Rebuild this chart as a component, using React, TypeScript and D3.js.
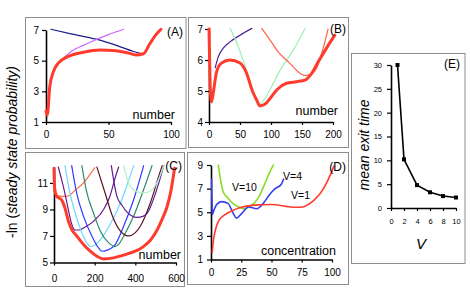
import React, { useEffect, useRef } from 'react';
import * as d3 from 'd3';

type Pt = [number, number];

// panel A: number of molecules
const aRed: Pt[] = [[0, 1.7], [1, 1.45], [3, 3.3], [6, 4.3], [10, 4.85], [17, 5.25], [30, 5.55], [43, 5.7], [56, 5.65], [65, 5.52], [72, 5.37], [78, 5.45], [83, 6.1], [88, 6.7], [92, 7.05]];
const aViolet: Pt[] = [[10, 4.88], [15, 5.25], [22, 5.7], [30, 6.0], [38, 6.3], [50, 6.7], [62, 7.05]];
const aNavy: Pt[] = [[4, 7.05], [20, 6.75], [40, 6.4], [58, 5.95], [70, 5.6], [77, 5.45]];

// panel B
const bRed: Pt[] = [[0, 7.0], [1, 6.0], [2, 5.1], [4, 4.65], [7, 4.95], [12, 5.6], [20, 5.9], [34, 6.0], [50, 5.9], [60, 5.6], [70, 5.0], [77, 4.7], [82, 4.52], [90, 4.57], [100, 4.8], [110, 5.05], [125, 5.25], [141, 5.3], [155, 5.35], [165, 5.55], [175, 5.9], [190, 6.4], [203, 6.8]];
const bPink: Pt[] = [[1.5, 7.05], [2, 6.6], [3, 6.2]];
const bPurple: Pt[] = [[10, 5.75], [15, 6.1], [23, 6.38], [35, 6.6], [50, 6.8], [69, 7.02]];
const bGreen: Pt[] = [[34, 7.02], [45, 6.55], [55, 6.0], [65, 5.4], [74, 4.85], [82, 4.6], [90, 4.75], [98, 5.03], [115, 5.68], [136, 6.32], [155, 7.02]];
const bSalmon: Pt[] = [[85, 7.02], [100, 6.6], [110, 6.3], [130, 5.9], [145, 5.6], [155, 5.5], [165, 5.55], [175, 5.8], [183, 6.3], [192, 7.0]];

// panel C
const cRed: Pt[] = [[0, 12.1], [3, 10.6], [13, 10.0], [38, 9.7], [54, 9.1], [71, 8.1], [87, 7.5], [112, 7.0], [145, 6.35], [178, 5.85], [211, 5.47], [244, 5.27], [293, 5.35], [330, 5.5], [375, 5.72], [420, 6.0], [441, 6.22], [475, 6.7], [507, 7.45], [530, 8.2], [556, 9.2], [575, 10.4], [593, 12.1]];
const cOrange: Pt[] = [[8, 10.1], [30, 10.0], [55, 9.98], [75, 10.05], [100, 10.4], [145, 11.0], [175, 11.6], [200, 12.15]];
const cPurple1: Pt[] = [[21, 12.2], [40, 11.1], [54, 10.2], [70, 9.0], [85, 8.0], [104, 7.45], [125, 7.45], [145, 7.6], [194, 8.1], [244, 9.0], [275, 10.0], [301, 11.4], [318, 12.2]];
const cCyan: Pt[] = [[54, 12.3], [79, 10.2], [104, 8.75], [137, 7.25], [170, 6.3], [178, 6.2], [200, 6.3], [227, 6.7], [277, 7.9], [310, 8.9], [340, 10.0], [365, 11.1], [392, 12.3]];
const cBlue: Pt[] = [[87, 12.3], [112, 10.2], [145, 8.5], [186, 7.0], [219, 6.1], [236, 5.85], [268, 5.97], [301, 6.35], [343, 7.75], [392, 9.75], [441, 12.3]];
const cTeal: Pt[] = [[137, 12.3], [161, 10.3], [194, 8.75], [227, 7.4], [268, 6.5], [300, 6.2], [320, 6.4], [343, 7.0], [392, 8.5], [441, 10.5], [482, 12.3]];
const cMaroon: Pt[] = [[211, 12.2], [252, 10.2], [285, 8.6], [320, 7.5], [367, 7.0], [400, 7.25], [425, 7.75], [474, 9.5], [515, 11.5], [532, 12.3]];
const cPurple2: Pt[] = [[282, 12.3], [309, 10.0], [335, 9.3], [359, 8.8], [408, 8.4], [440, 8.5], [458, 8.7], [499, 10.2], [540, 12.3]];
const cMint: Pt[] = [[342, 12.3], [358, 11.4], [375, 10.75], [400, 10.4], [441, 10.25], [470, 10.35], [490, 10.6], [515, 11.3], [540, 12.3]];

// panel D: concentration, V = 1, 4, 10
const dV1: Pt[] = [[1, 1.6], [2, 2.6], [3.3, 3.35], [6, 4.2], [11.6, 4.8], [17, 5.1], [23, 5.35], [36, 5.6], [50, 5.65], [62, 5.5], [70, 5.42], [76, 5.45], [81, 5.7], [85, 6.0], [93, 7.0], [100, 8.5], [101.5, 8.9]];
const dV4: Pt[] = [[0.5, 7.8], [0.8, 6.0], [1, 4.8], [2.5, 5.2], [4.7, 5.65], [8.8, 5.9], [14, 5.75], [18.4, 4.9], [21, 4.5], [25.4, 4.9], [30.8, 5.45], [37.8, 5.3], [43.2, 5.75], [48.8, 6.55], [53, 7.0], [58, 7.35], [60, 7.8]];
const dV10: Pt[] = [[6, 9.0], [8, 7.7], [10, 6.75], [14, 6.2], [18, 5.75], [23, 5.45], [28, 5.3], [33, 5.55], [39, 6.2], [44, 7.3], [49, 8.5], [51.5, 9.0]];

// panel E: mean exit time vs V
const eV = [1, 2, 4, 6, 8, 10];
const eTime = [30, 10.2, 4.8, 3.3, 2.5, 2.2];

const FONT = "'Liberation Sans', Arial, Helvetica, sans-serif";
const RED = '#ff3b2e';

export default function App() {
  const svgRef = useRef<SVGSVGElement | null>(null);

  useEffect(() => {
    const svg = d3.select(svgRef.current);
    svg.selectAll('*').remove();

    // panel frames
    const frames = [
      [25.5, 17.5, 160.5, 131],
      [188.5, 17.5, 160, 130],
      [25.5, 152.5, 159, 134],
      [187.5, 152.5, 161, 132],
      [351.5, 53.5, 113.5, 210],
    ];
    svg
      .selectAll('.frame')
      .data(frames)
      .join('rect')
      .attr('x', (d) => d[0])
      .attr('y', (d) => d[1])
      .attr('width', (d) => d[2])
      .attr('height', (d) => d[3])
      .style('fill', 'none')
      .style('stroke', '#8e8e8e')
      .style('stroke-width', 1);

    const panel = (
      x: d3.ScaleLinear<number, number>,
      y: d3.ScaleLinear<number, number>,
      xTicks: number[],
      yTicks: number[],
      fontSize: number,
      xPad: number,
      yPad: number,
    ) => {
      const g = svg.append('g');
      const fmt = d3.format('d');
      const ax = g
        .append('g')
        .attr('transform', `translate(0, ${y.range()[0]})`)
        .call(
          d3
            .axisBottom(x)
            .tickValues(xTicks)
            .tickFormat((d) => fmt(d as number))
            .tickSize(3)
            .tickSizeOuter(0)
            .tickPadding(xPad),
        );
      const ay = g
        .append('g')
        .attr('transform', `translate(${x.range()[0]}, 0)`)
        .call(
          d3
            .axisLeft(y)
            .tickValues(yTicks)
            .tickFormat((d) => fmt(d as number))
            .tickSize(4)
            .tickSizeOuter(0)
            .tickPadding(yPad),
        );
      [ax, ay].forEach((a) => {
        a.select('.domain').style('stroke', '#000').style('stroke-width', 1.6);
        a.selectAll('.tick line').style('stroke', '#000').style('stroke-width', 1.2);
        a.selectAll('.tick text')
          .style('font-family', FONT)
          .style('font-size', `${fontSize}px`)
          .style('fill', '#000');
      });
      return g;
    };

    const curve = (
      g: d3.Selection<SVGGElement, unknown, null, undefined>,
      x: d3.ScaleLinear<number, number>,
      y: d3.ScaleLinear<number, number>,
      pts: Pt[],
      color: string,
      w: number,
    ) => {
      const line = d3
        .line<Pt>()
        .x((d) => x(d[0]))
        .y((d) => y(d[1]))
        .curve(d3.curveMonotoneX);
      g.append('path')
        .attr('d', line(pts))
        .style('fill', 'none')
        .style('stroke', color)
        .style('stroke-width', w)
        .style('stroke-linejoin', 'round')
        .style('stroke-linecap', 'round');
    };

    const label = (tx: number, ty: number, s: string, size: number, anchor = 'start', italic = false) =>
      svg
        .append('text')
        .attr('x', tx)
        .attr('y', ty)
        .attr('text-anchor', anchor)
        .style('font-family', FONT)
        .style('font-size', `${size}px`)
        .style('font-style', italic ? 'italic' : 'normal')
        .text(s);

    // (A)
    const xA = d3.scaleLinear().domain([0, 100]).range([46, 171]);
    const yA = d3.scaleLinear().domain([1, 7]).range([122, 30]);
    const gA = panel(xA, yA, [0, 50, 100], [1, 3, 5, 7], 10, 6, 3);
    curve(gA, xA, yA, aNavy, '#1c1c8a', 1.2);
    curve(gA, xA, yA, aViolet, '#cc66ff', 1.2);
    curve(gA, xA, yA, aRed, RED, 3);
    label(175, 119, 'number', 12.5, 'end');
    label(183, 36, '(A)', 12, 'end');

    // (B)
    const xB = d3.scaleLinear().domain([0, 200]).range([209, 333]);
    const yB = d3.scaleLinear().domain([4, 7]).range([122, 29]);
    const gB = panel(xB, yB, [0, 50, 100, 150, 200], [4, 5, 6, 7], 10, 6, 2);
    curve(gB, xB, yB, bPink, '#ffc4c4', 1.2);
    curve(gB, xB, yB, bPurple, '#4b1f96', 1.2);
    curve(gB, xB, yB, bGreen, '#9cf0b4', 1.2);
    curve(gB, xB, yB, bSalmon, '#ff6347', 1.2);
    curve(gB, xB, yB, bRed, RED, 3);
    label(338, 115, 'number', 12.5, 'end');
    label(346, 33, '(B)', 12, 'end');

    // (C)
    const xC = d3.scaleLinear().domain([0, 600]).range([54, 176]);
    const yC = d3.scaleLinear().domain([5, 12.2]).range([262.5, 167]);
    const gC = panel(xC, yC, [0, 200, 400, 600], [5, 7, 9, 11], 10, 9, 2);
    curve(gC, xC, yC, cOrange, '#ff6a3d', 1.2);
    curve(gC, xC, yC, cPurple1, '#6a1b8c', 1.2);
    curve(gC, xC, yC, cCyan, '#6fd8ff', 1.2);
    curve(gC, xC, yC, cBlue, '#2f3bff', 1.2);
    curve(gC, xC, yC, cTeal, '#2e8a6a', 1.2);
    curve(gC, xC, yC, cMaroon, '#5a1420', 1.2);
    curve(gC, xC, yC, cPurple2, '#5e1f99', 1.2);
    curve(gC, xC, yC, cMint, '#aef2c4', 1.2);
    curve(gC, xC, yC, cRed, RED, 3);
    label(181, 259, 'number', 12.5, 'end');
    label(182, 170, '(C)', 12, 'end');

    // (D)
    const xD = d3.scaleLinear().domain([0, 100]).range([211, 332]);
    const yD = d3.scaleLinear().domain([1, 9]).range([259.5, 165]);
    const gD = panel(xD, yD, [0, 25, 50, 75, 100], [1, 3, 5, 7, 9], 10, 6, 4);
    curve(gD, xD, yD, dV10, '#88dd22', 1.6);
    curve(gD, xD, yD, dV4, '#3340f0', 1.6);
    curve(gD, xD, yD, dV1, RED, 1.6);
    label(336, 255, 'concentration', 12.5, 'end');
    label(346, 171, '(D)', 12, 'end');
    label(232, 191, 'V=10', 10.5);
    label(283, 180, 'V=4', 10.5);
    label(291, 199, 'V=1', 10.5);

    // (E)
    const xE = d3.scaleLinear().domain([0, 10]).range([391, 456]);
    const yE = d3.scaleLinear().domain([0, 30]).range([208, 65]);
    const gE = panel(xE, yE, [0, 2, 4, 6, 8, 10], [0, 5, 10, 15, 20, 25, 30], 7.5, 8, 5);
    const eLine = d3
      .line<number>()
      .x((d) => xE(d))
      .y((_, i) => yE(eTime[i]));
    gE.append('path')
      .attr('d', eLine(eV))
      .style('fill', 'none')
      .style('stroke', '#000')
      .style('stroke-width', 1.6);
    gE.selectAll('.mark')
      .data(eV)
      .join('rect')
      .attr('x', (d) => xE(d) - 2)
      .attr('y', (d, i) => yE(eTime[i]) - 2)
      .attr('width', 4)
      .attr('height', 4)
      .style('fill', '#000');
    label(460, 68, '(E)', 12, 'end');
    label(421, 249, 'V', 15, 'middle', true);
    svg
      .append('text')
      .attr('transform', 'translate(369, 145) rotate(-90)')
      .attr('text-anchor', 'middle')
      .style('font-family', FONT)
      .style('font-size', '14px')
      .style('font-style', 'italic')
      .text('mean exit time');

    // shared y title
    const t = svg
      .append('text')
      .attr('transform', 'translate(17, 152) rotate(-90)')
      .attr('text-anchor', 'middle')
      .style('font-family', FONT)
      .style('font-size', '14px');
    t.append('tspan').text('-ln (');
    t.append('tspan').style('font-style', 'italic').text('steady state probability)');
  });

  return (
    <div style={{ position: 'fixed', left: 0, top: 0 }}>
      <svg ref={svgRef} width={470} height={305} style={{ display: 'block', background: '#fff' }}></svg>
    </div>
  );
}
